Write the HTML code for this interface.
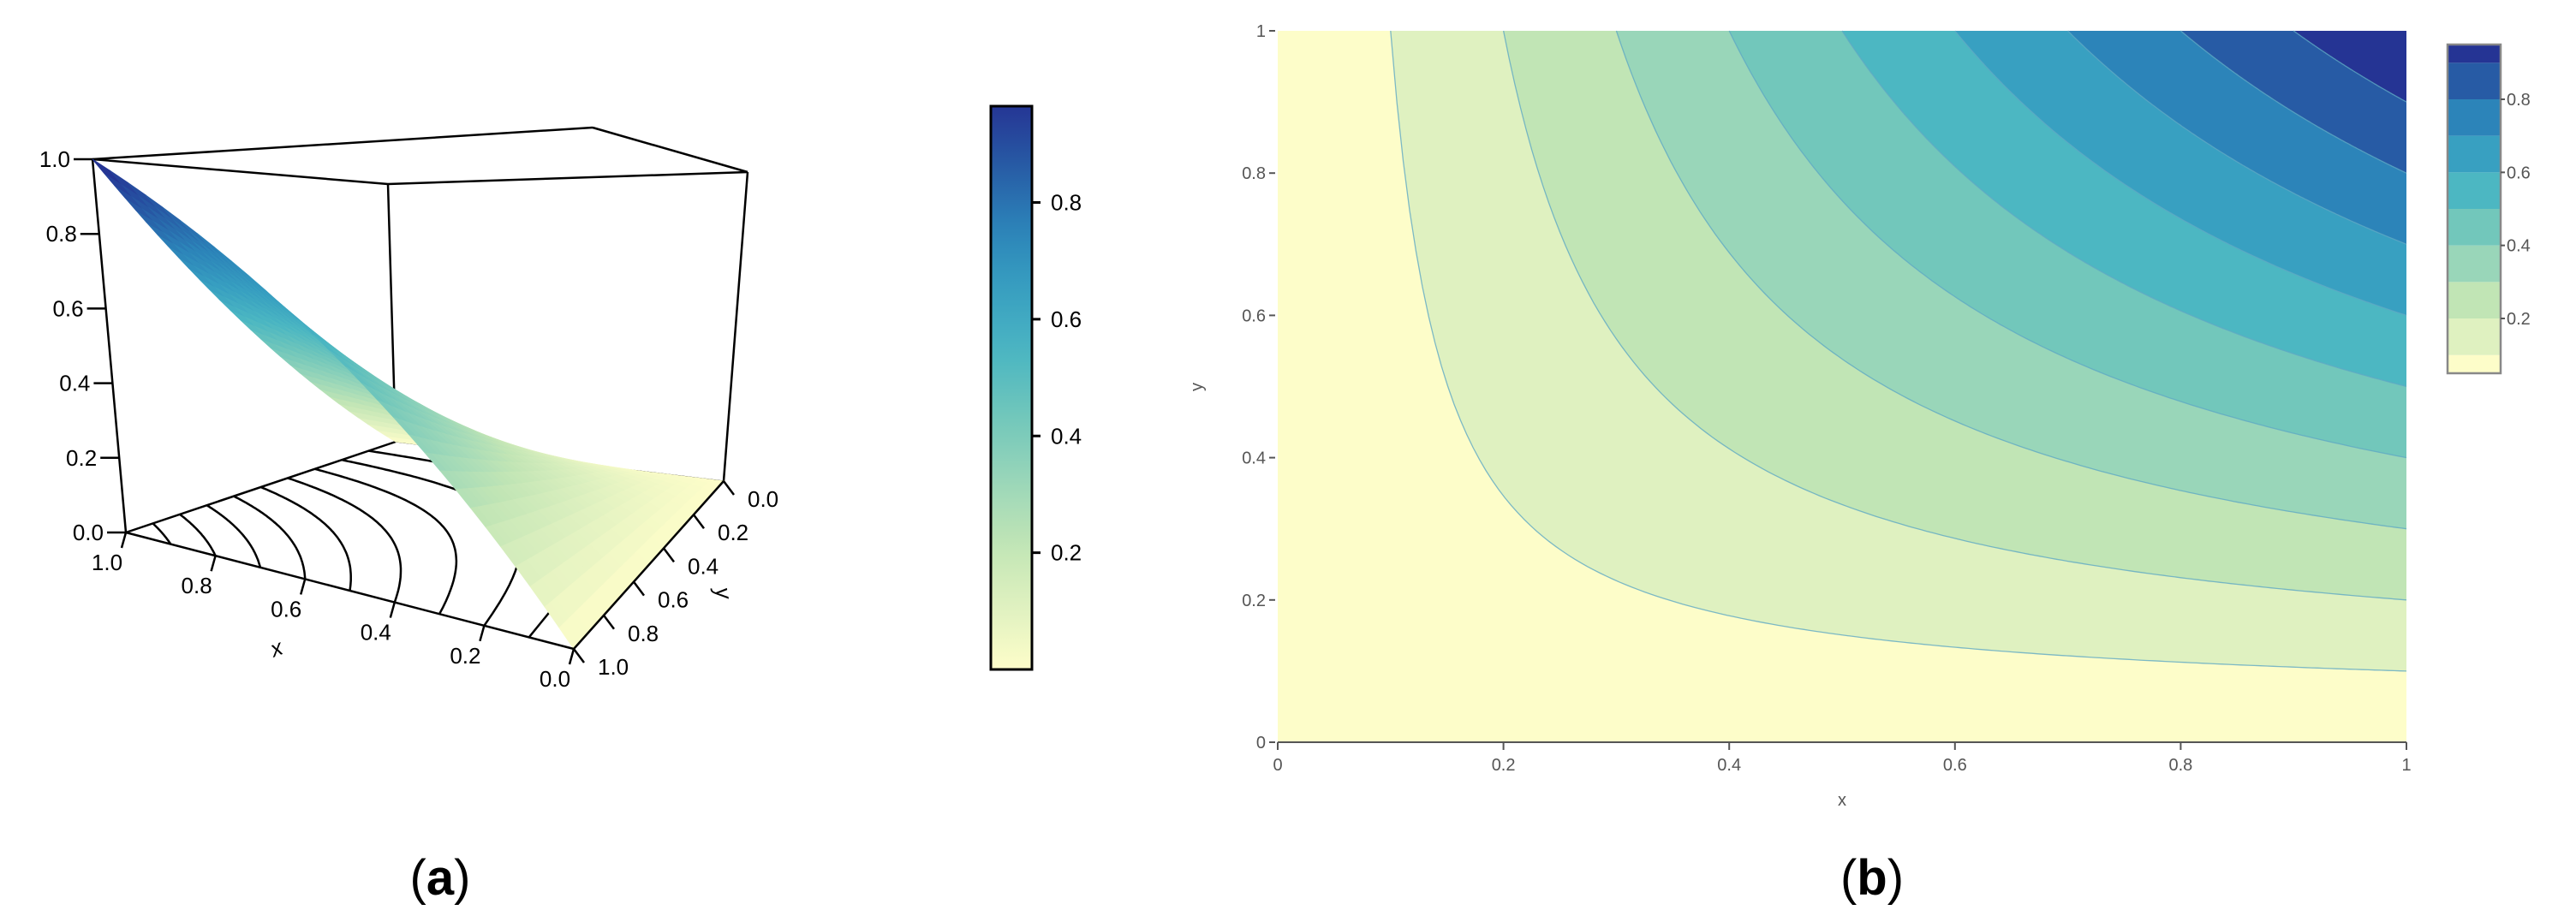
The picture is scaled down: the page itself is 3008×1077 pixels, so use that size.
<!DOCTYPE html>
<html><head><meta charset="utf-8">
<style>
html,body{margin:0;padding:0;background:#fff;}
svg{display:block;}
text{font-family:"Liberation Sans",sans-serif;}
</style></head>
<body>
<svg id="fig" width="3008" height="1077" viewBox="0 0 3008 1077" xmlns="http://www.w3.org/2000/svg">
<g id="pa"></g>
<g id="pb"></g>
<text x="514" y="1045" text-anchor="middle" font-family="Liberation Serif, serif" font-size="58">(<tspan font-weight="bold">a</tspan>)</text>
<text x="2186" y="1045" text-anchor="middle" font-family="Liberation Serif, serif" font-size="58">(<tspan font-weight="bold">b</tspan>)</text>
</svg>
<script>
// ---- data ----
const theta = [0.3];
const levels = [0.1,0.2,0.3,0.4,0.5,0.6,0.7,0.8,0.9];
const bandColors = ["#fdfdc9","#dff1c0","#c1e5b5","#99d6b9","#72c7bb","#4cb7c2","#38a0c1","#2c84b9","#275ba5","#253494"];
const axisTicks = [0,0.2,0.4,0.6,0.8,1];
const axisTickLabels = ["0","0.2","0.4","0.6","0.8","1"];
const tick3dLabels = ["0.0","0.2","0.4","0.6","0.8","1.0"];
const cbTicks = [0.2,0.4,0.6,0.8];
const cbTickLabels = ["0.2","0.4","0.6","0.8"];
const surfaceN = 30;

const NS="http://www.w3.org/2000/svg";
function mk(parent,tag,attrs,txt){const e=document.createElementNS(NS,tag);for(const k in attrs)e.setAttribute(k,attrs[k]);if(txt!==undefined)e.textContent=txt;parent.appendChild(e);return e;}
const th=theta[0];
function zf(x,y){if(x<=0||y<=0)return 0;const s=Math.pow(x,-th)+Math.pow(y,-th)-1;return s<=0?0:Math.pow(s,-1/th);}
function levelY(L,x){const s=Math.pow(L,-th)-Math.pow(x,-th)+1;return Math.pow(s,-1/th);}
function hex(c){return [parseInt(c.slice(1,3),16),parseInt(c.slice(3,5),16),parseInt(c.slice(5,7),16)];}
function cmap(v){
  let t=Math.max(0,Math.min(1,v/0.97))*(bandColors.length-1);
  let i=Math.min(bandColors.length-2,Math.floor(t)),f=t-i;
  const a=hex(bandColors[i]),b=hex(bandColors[i+1]);
  return "rgb("+a.map((q,k)=>Math.round(q+(b[k]-q)*f)).join(",")+")";
}

// ---- panel a ----
const pa=document.getElementById('pa');
const B={"11":[147,622],"01":[670,758],"00":[845,562],"10":[462,516]};
const T={"11":[108,186],"01":[692,149],"00":[873,201],"10":[453,215]};
function bil(C,x,y){
  const p00=C["00"],p10=C["10"],p01=C["01"],p11=C["11"];
  return [0,1].map(k=>(1-x)*(1-y)*p00[k]+x*(1-y)*p10[k]+(1-x)*y*p01[k]+x*y*p11[k]);
}
function P(x,y,z){const b=bil(B,x,y),t=bil(T,x,y);return [b[0]+z*(t[0]-b[0]),b[1]+z*(t[1]-b[1])];}
function ln(g,a,b,name,w){const e=mk(g,'line',{x1:a[0],y1:a[1],x2:b[0],y2:b[1],stroke:'#000','stroke-width':w||2.5});return e;}
ln(pa,P(1,1,1),P(0,1,1),'box-top-edge');
ln(pa,P(1,1,1),P(1,0,1),'box-top-edge');
ln(pa,P(1,0,1),P(0,0,1),'box-top-edge');
ln(pa,P(0,1,1),P(0,0,1),'box-top-edge');
ln(pa,P(1,0,1),P(1,0,0),'box-back-vertical');
ln(pa,P(1,0,0),P(0,0,0),'box-floor-back-edge',1.2);
ln(pa,P(1,1,0),P(1,0,0),'box-floor-left-edge');
ln(pa,P(1,1,1),P(1,1,0),'z-axis-line');
ln(pa,P(0,0,1),P(0,0,0),'box-right-vertical');
levels.forEach(L=>{
  let d="";const n=80;
  for(let i=0;i<=n;i++){const x=L+(1-L)*i/n;const y=levelY(L,x);const p=P(x,y,0);d+=(i?"L":"M")+p[0].toFixed(1)+","+p[1].toFixed(1);}
  const e=mk(pa,'path',{d:d,fill:'none',stroke:'#000','stroke-width':2.5});
  
  
});
const cells=[];
for(let i=0;i<surfaceN;i++)for(let j=0;j<surfaceN;j++){
  const x0=i/surfaceN,x1=(i+1)/surfaceN,y0=j/surfaceN,y1=(j+1)/surfaceN;
  cells.push({x0,x1,y0,y1,depth:(x0+x1)/2+(1-(y0+y1)/2)});
}
cells.sort((a,b)=>b.depth-a.depth);
const sg=mk(pa,'g',{});


cells.forEach(c=>{
  const pts=[[c.x0,c.y0],[c.x1,c.y0],[c.x1,c.y1],[c.x0,c.y1]].map(q=>P(q[0],q[1],zf(q[0],q[1])));
  const col=cmap(zf((c.x0+c.x1)/2,(c.y0+c.y1)/2));
  const e=mk(sg,'polygon',{points:pts.map(p=>p[0].toFixed(1)+","+p[1].toFixed(1)).join(" "),fill:col,stroke:col,'stroke-width':1});
  
  
});
ln(pa,P(1,1,0),P(0,1,0),'x-axis-line');
ln(pa,P(0,1,0),P(0,0,0),'y-axis-line');
axisTicks.forEach((v,i)=>{
  const pz=P(1,1,v);
  ln(pa,[pz[0]-22,pz[1]],pz,'z-tick');
  const tz=mk(pa,'text',{x:pz[0]-26,y:pz[1]+9,'text-anchor':'end','font-size':26},tick3dLabels[i]);
  
  const px=P(v,1,0);
  ln(pa,px,[px[0]-5,px[1]+18],'x-tick');
  const tx=mk(pa,'text',{x:px[0]-22,y:px[1]+44,'text-anchor':'middle','font-size':26},tick3dLabels[i]);
  
  const py=P(0,v,0);
  ln(pa,py,[py[0]+12,py[1]+16],'y-tick');
  const ty=mk(pa,'text',{x:py[0]+28,y:py[1]+30,'text-anchor':'start','font-size':26},tick3dLabels[i]);
  
});
let t=mk(pa,'text',{x:323,y:766,'text-anchor':'middle','font-size':26,'font-style':'italic',transform:'rotate(-20 323 758)'},'x');

t=mk(pa,'text',{x:843,y:700,'text-anchor':'middle','font-size':26,'font-style':'italic',transform:'rotate(80 843 693)'},'y');

const cbA={x:1157,w:48,top:124,bot:782,vmin:0,vmax:0.965};
function cbAy(v){return cbA.bot-(v-cbA.vmin)/(cbA.vmax-cbA.vmin)*(cbA.bot-cbA.top);}
const defs=mk(document.getElementById('fig'),'defs',{});
const grad=mk(defs,'linearGradient',{id:'cbgrad',x1:0,y1:1,x2:0,y2:0});
for(let k=0;k<=20;k++){mk(grad,'stop',{offset:k/20,'stop-color':cmap(cbA.vmin+(cbA.vmax-cbA.vmin)*k/20)});}
const cbr=mk(pa,'rect',{x:cbA.x,y:cbA.top,width:cbA.w,height:cbA.bot-cbA.top,fill:'url(#cbgrad)',stroke:'#000','stroke-width':3});

cbTicks.forEach((v,i)=>{
  const y=cbAy(v);
  ln(pa,[cbA.x+cbA.w,y],[cbA.x+cbA.w+10,y],'colorbar-a-tick',3);
  const e=mk(pa,'text',{x:cbA.x+cbA.w+22,y:y+9,'font-size':26},cbTickLabels[i]);
  
});

// ---- panel b ----
const pb=document.getElementById('pb');
const X0=1492,X1=2810,Y0=867,Y1=36;
function sx(v){return X0+v*(X1-X0);}
function sy(v){return Y0-v*(Y0-Y1);}
let r=mk(pb,'rect',{x:X0,y:Y1,width:X1-X0,height:Y0-Y1,fill:bandColors[0]});

levels.forEach((L,i)=>{
  let d="";const n=160;
  for(let k=0;k<=n;k++){const x=L+(1-L)*k/n;const y=levelY(L,x);d+=(k?"L":"M")+sx(x).toFixed(1)+","+sy(y).toFixed(1);}
  const fillD=d+"L"+sx(1)+","+sy(1)+"Z";
  const e=mk(pb,'path',{d:fillD,fill:bandColors[i+1]});
  
  const c=mk(pb,'path',{d:d,fill:'none',stroke:'#5fa9c4','stroke-width':1.3,'stroke-opacity':0.8});
  
});
const axG='#555';
let e=mk(pb,'line',{x1:X0,y1:Y0,x2:X1,y2:Y0,stroke:axG,'stroke-width':2});

axisTicks.forEach((v,i)=>{
  let q=mk(pb,'line',{x1:sx(v),y1:Y0,x2:sx(v),y2:Y0+9,stroke:axG,'stroke-width':2});
  
  q=mk(pb,'text',{x:sx(v),y:Y0+33,'text-anchor':'middle','font-size':20,fill:'#555','font-family':'DejaVu Sans, sans-serif'},axisTickLabels[i]);
  
  q=mk(pb,'line',{x1:X0-10,y1:sy(v),x2:X0-3,y2:sy(v),stroke:axG,'stroke-width':2});
  
  q=mk(pb,'text',{x:X0-14,y:sy(v)+7,'text-anchor':'end','font-size':20,fill:'#555','font-family':'DejaVu Sans, sans-serif'},axisTickLabels[i]);
  
});
e=mk(pb,'text',{x:2151,y:941,'text-anchor':'middle','font-size':20,fill:'#555','font-family':'DejaVu Sans, sans-serif'},'x');

e=mk(pb,'text',{x:1404,y:452,'text-anchor':'middle','font-size':20,fill:'#555','font-family':'DejaVu Sans, sans-serif',transform:'rotate(-90 1404 452)'},'y');

const cbB={x:2858,w:62,top:52,bot:436,vmin:0.05,vmax:0.95};
function cbBy(v){return cbB.bot-(v-cbB.vmin)/(cbB.vmax-cbB.vmin)*(cbB.bot-cbB.top);}
const edges=[cbB.vmin].concat(levels).concat([cbB.vmax]);
for(let i=0;i<bandColors.length;i++){
  const yTop=cbBy(edges[i+1]),yBot=cbBy(edges[i]);
  const q=mk(pb,'rect',{x:cbB.x,y:yTop,width:cbB.w,height:yBot-yTop,fill:bandColors[i]});
  
}
e=mk(pb,'rect',{x:cbB.x,y:cbB.top,width:cbB.w,height:cbB.bot-cbB.top,fill:'none',stroke:'#888','stroke-width':2.5});

cbTicks.forEach((v,i)=>{
  const y=cbBy(v);
  let q=mk(pb,'line',{x1:cbB.x+cbB.w,y1:y,x2:cbB.x+cbB.w+5,y2:y,stroke:axG,'stroke-width':2});
  
  q=mk(pb,'text',{x:cbB.x+cbB.w+7,y:y+7,'font-size':20,fill:'#555','font-family':'DejaVu Sans, sans-serif'},cbTickLabels[i]);
  
});
</script>
</body></html>
